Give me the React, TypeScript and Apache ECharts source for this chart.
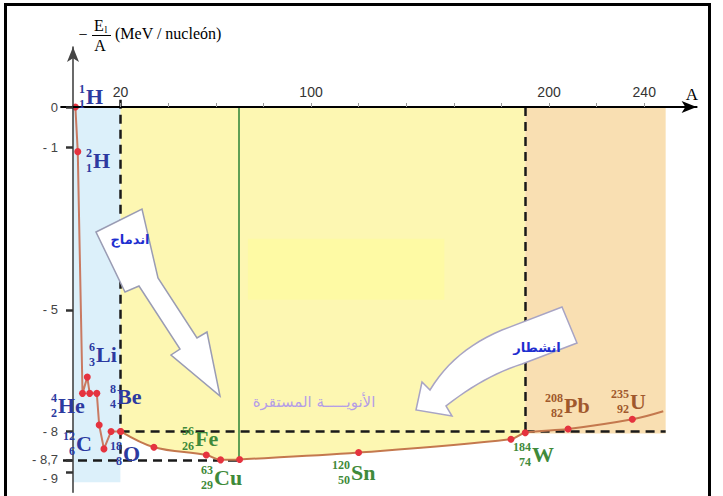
import React, { useEffect, useRef } from 'react';
import * as echarts from 'echarts';

// ---------- data ----------
// binding energy per nucleon curve: light nuclei (straight segments)
const lightMass = [1, 2, 4, 6, 7, 10, 11, 13, 16, 20];
const lightEnergy = [0, -1.1, -7.06, -6.66, -7.06, -7.06, -7.84, -8.43, -8.0, -8.0];
// heavier nuclei (smooth curve); last point is the end of the line (no dot)
const heavyMass = [20, 34, 56, 62, 70, 120, 184, 190, 208, 235, 248];
const heavyEnergy = [-8.0, -8.39, -8.58, -8.7, -8.69, -8.52, -8.19, -8.03, -7.94, -7.7, -7.5];
const heavyDot = [true, true, true, true, true, true, true, true, true, true, false];

// axis ticks
const xTickValues = [20, 40, 60, 80, 100, 120, 140, 160, 180, 200, 220, 240];
const xLabelValues = [20, 100, 200, 240];
const yTickValues = [-8.7, -8, -5, -1, 0];
const yTickLabels = ['- 8,7', '- 8', '- 5', '- 1', '0'];
const yLowTickValues = [-9];
const yLowTickLabels = ['- 9'];

// region limits
const fusionLimit = 20;
const fissionLimit = 190;
const stableLine = 69.5;
const plateauEnergy = -8;
const minEnergy = -8.7;
const regionEnd = 249;

// nuclide labels
const nuclideSymbols = ['H', 'H', 'He', 'Li', 'Be', 'C', 'O', 'Fe', 'Cu', 'Sn', 'W', 'Pb', 'U'];
const nuclideMass = [1, 2, 4, 6, 8, 12, 18, 56, 63, 120, 184, 208, 235];
const nuclideCharge = [1, 1, 2, 3, 4, 6, 8, 26, 29, 50, 74, 82, 92];

// texts
const yTitleUnit = '(MeV / nucleón)';
const xTitle = 'A';
const fusionText = 'اندماج';
const fissionText = 'انشطار';
const stableText = 'الأنويـــــة المستقرة';

// ---------- layout / style (not data) ----------
const BLUE = '#2c3aa0';
const GREEN = '#3f8a3a';
const BROWN = '#a0582c';
const labelLayout: [number, number, string][] = [
  [86, 96, BLUE],
  [93, 160, BLUE],
  [58, 405, BLUE],
  [96, 354, BLUE],
  [117, 396, BLUE],
  [76, 443, BLUE],
  [123, 453, BLUE],
  [195, 438, GREEN],
  [214, 477, GREEN],
  [351, 472, GREEN],
  [532, 454, GREEN],
  [564, 405, BROWN],
  [630, 401, BROWN],
];

const serif = "'Liberation Serif', 'Times New Roman', serif";
const narrow = "'Liberation Sans Narrow', 'Liberation Sans', Arial, sans-serif";

function quad(p0: number[], c: number[], p1: number[], n: number): number[][] {
  const pts: number[][] = [];
  for (let i = 0; i <= n; i++) {
    const t = i / n;
    const a = (1 - t) * (1 - t);
    const b = 2 * (1 - t) * t;
    const d = t * t;
    pts.push([a * p0[0] + b * c[0] + d * p1[0], a * p0[1] + b * c[1] + d * p1[1]]);
  }
  return pts;
}

function labelFormatter(values: number[], labels: string[]) {
  return (v: number) => {
    const idx = values.findIndex((t) => Math.abs(t - v) < 1e-6);
    return idx >= 0 ? labels[idx] : '';
  };
}

export default function App() {
  const ref = useRef<HTMLDivElement>(null);
  useEffect(() => {
    if (!ref.current) return;
    const chart = echarts.init(ref.current, null, { renderer: 'svg' });

    const lightData = lightMass.map((a, i) => [a, lightEnergy[i]]);
    const heavyData = heavyMass.map((a, i) =>
      heavyDot[i] ? [a, heavyEnergy[i]] : { value: [a, heavyEnergy[i]], symbol: 'none' }
    );
    const yellowData = heavyMass
      .map((a, i) => [a, heavyEnergy[i]])
      .filter((p) => p[0] >= fusionLimit && p[0] <= fissionLimit);

    const dash = { color: '#1a1a1a', width: 2.5, type: [9, 6] as any };

    // fission arrow polygon
    const innerCurve = quad([522, 364], [484, 376], [446, 406], 12);
    const outerCurve = quad([430, 390], [454, 350], [502, 330], 12);
    const fissionPoly = [
      [502, 330], [562, 307], [577, 343],
      ...innerCurve,
      [452, 416], [416, 410], [422, 382],
      ...outerCurve,
    ];
    const fusionPoly = [
      [96, 232], [142, 209], [158, 278], [197, 338], [207, 332], [220, 396],
      [171, 355], [180, 349], [139, 286], [125, 292],
    ];

    const labelEls: any[] = [];
    nuclideSymbols.forEach((sym, i) => {
      const [left, cy, color] = labelLayout[i];
      labelEls.push({
        type: 'text', x: left - 1, y: cy, z: 100,
        style: {
          text: `${nuclideMass[i]}\n${nuclideCharge[i]}`, align: 'right', verticalAlign: 'middle',
          font: `bold 12px ${serif}`, lineHeight: 15, fill: color,
        },
      });
      labelEls.push({
        type: 'text', x: left, y: cy, z: 100,
        style: { text: sym, align: 'left', verticalAlign: 'middle', font: `bold 22px ${serif}`, fill: color },
      });
    });

    const yLabelStyle = { margin: 15, color: '#444', fontFamily: narrow, fontSize: 13 };

    const option: any = {
      animation: false,
      backgroundColor: '#ffffff',
      grid: [
        // main plotting grid: x from 0, y up to the arrow tip
        { left: 73, right: 26.4, top: 47, bottom: 3.7, containLabel: false },
        // grid that carries the horizontal axis at E = 0
        { left: 61.1, right: 26.4, top: 107, bottom: 3.7, containLabel: false },
      ],
      xAxis: [
        { gridIndex: 0, type: 'value', min: 0, max: 262, show: false },
        {
          gridIndex: 1, type: 'value', min: -5, max: 262, position: 'top', z: 10,
          axisLine: { symbol: ['none', 'arrow'], symbolSize: [9, 15], lineStyle: { color: '#000', width: 2 } },
          axisTick: { show: true, customValues: xTickValues, length: 4, inside: false, lineStyle: { color: '#9a9a9a', width: 1 } },
          axisLabel: { customValues: xLabelValues, margin: 8, color: '#333', fontFamily: narrow, fontSize: 14 },
          splitLine: { show: false },
        },
      ],
      yAxis: [
        {
          gridIndex: 0, type: 'value', min: -9.5, max: 1.48, z: 10, position: 'left',
          axisLine: { onZero: false, symbol: ['none', 'arrow'], symbolSize: [9, 15], lineStyle: { color: '#444', width: 1.6 } },
          axisTick: { show: true, customValues: yTickValues, length: 7, lineStyle: { color: '#333', width: 2.5 } },
          axisLabel: {
            ...yLabelStyle,
            customValues: yTickValues, formatter: labelFormatter(yTickValues, yTickLabels),
          },
          splitLine: { show: false },
        },
        { gridIndex: 1, type: 'value', min: -9.5, max: 0, show: false },
        {
          gridIndex: 0, type: 'value', min: -9.5, max: 1.48, z: 10, position: 'left', offset: 0,
          axisLine: { show: false, onZero: false },
          axisTick: { show: true, customValues: yLowTickValues, length: 7, lineStyle: { color: '#333', width: 2.5 } },
          axisLabel: {
            ...yLabelStyle, verticalAlign: 'top',
            customValues: yLowTickValues, formatter: labelFormatter(yLowTickValues, yLowTickLabels),
          },
          splitLine: { show: false },
        },
      ],
      series: [
        {
          name: 'regions', type: 'line', z: 1, silent: true, data: yellowData,
          symbol: 'none', lineStyle: { width: 0, opacity: 0 },
          markArea: {
            silent: true, label: { show: false },
            data: [
              [{ coord: [0, 0], itemStyle: { color: '#dcf0fa', opacity: 1 } }, { coord: [fusionLimit, -9.25] }],
              [{ coord: [fusionLimit, 0], itemStyle: { color: '#fdf7b2', opacity: 1 } }, { coord: [fissionLimit, minEnergy] }],
              [{ coord: [fissionLimit, 0], itemStyle: { color: '#f9dfb2', opacity: 1 } }, { coord: [regionEnd, plateauEnergy - 0.05] }],
              [{ coord: [73.5, -3.25], itemStyle: { color: '#fefaa4', opacity: 1 } }, { coord: [156, -4.75] }],
            ],
          },
        },
        {
          name: 'below', type: 'line', z: 2, silent: true, data: yellowData, smooth: 0.35,
          symbol: 'none', lineStyle: { width: 0, opacity: 0 },
          areaStyle: { color: '#ffffff', opacity: 1, origin: 'start' },
        },
        {
          name: 'guides', type: 'line', z: 3, silent: true, data: [[0, 0]], symbol: 'none', clip: false,
          lineStyle: { width: 0, opacity: 0 },
          markLine: {
            silent: true, symbol: ['none', 'none'], label: { show: false },
            data: [
              [{ coord: [fusionLimit, 0.18], lineStyle: dash }, { coord: [fusionLimit, minEnergy] }],
              [{ coord: [fissionLimit, 0], lineStyle: dash }, { coord: [fissionLimit, plateauEnergy - 0.03] }],
              [{ coord: [fusionLimit, plateauEnergy], lineStyle: dash }, { coord: [regionEnd, plateauEnergy] }],
              [{ coord: [stableLine, 0], lineStyle: { color: '#5f9f55', width: 2, type: 'solid' } }, { coord: [stableLine, minEnergy] }],
            ],
          },
        },
        {
          name: 'guidesLow', type: 'line', xAxisIndex: 1, yAxisIndex: 1, z: 3, silent: true,
          data: [[0, 0]], symbol: 'none', clip: false,
          lineStyle: { width: 0, opacity: 0 },
          markLine: {
            silent: true, symbol: ['none', 'none'], label: { show: false },
            data: [
              [{ coord: [-4.2, minEnergy], lineStyle: dash }, { coord: [stableLine, minEnergy] }],
            ],
          },
        },
        {
          name: 'light', type: 'line', z: 5, data: lightData, smooth: false,
          symbol: 'circle', symbolSize: 7,
          lineStyle: { color: '#c97a62', width: 2 },
          itemStyle: { color: '#e5333f' },
        },
        {
          name: 'heavy', type: 'line', z: 5, data: heavyData, smooth: 0.35,
          symbol: 'circle', symbolSize: 7,
          lineStyle: { color: '#c4784e', width: 2 },
          itemStyle: { color: '#e5333f' },
        },
      ],
      graphic: {
        elements: [
          { type: 'rect', z: 100, shape: { x: 5.5, y: 4.5, width: 704, height: 500 }, style: { fill: 'none', stroke: '#000', lineWidth: 3 } },
          // y title
          { type: 'text', z: 100, x: 83, y: 34, style: { text: '−', align: 'center', verticalAlign: 'middle', font: `16px ${serif}`, fill: '#000' } },
          { type: 'text', z: 100, x: 99, y: 25, style: { text: 'E', align: 'center', verticalAlign: 'middle', font: `16px ${serif}`, fill: '#000' } },
          { type: 'text', z: 100, x: 106, y: 29, style: { text: 'l', align: 'center', verticalAlign: 'middle', font: `10px ${serif}`, fill: '#000' } },
          { type: 'line', z: 100, shape: { x1: 92, y1: 35.5, x2: 111, y2: 35.5 }, style: { stroke: '#000', lineWidth: 1 } },
          { type: 'text', z: 100, x: 100, y: 45, style: { text: 'A', align: 'center', verticalAlign: 'middle', font: `16px ${serif}`, fill: '#000' } },
          { type: 'text', z: 100, x: 115, y: 33, style: { text: yTitleUnit, align: 'left', verticalAlign: 'middle', font: `16px ${serif}`, fill: '#000' } },
          // x title
          { type: 'text', z: 100, x: 692, y: 94, style: { text: xTitle, align: 'center', verticalAlign: 'middle', font: `17px ${serif}`, fill: '#000' } },
          // arrows
          { type: 'polygon', z: 90, shape: { points: fusionPoly }, style: { fill: '#ffffff', stroke: '#9a9cb4', lineWidth: 1.5 } },
          { type: 'polygon', z: 90, shape: { points: fissionPoly }, style: { fill: '#ffffff', stroke: '#a8a4c4', lineWidth: 1.5 } },
          { type: 'text', z: 100, x: 130, y: 239, style: { text: fusionText, align: 'center', verticalAlign: 'middle', font: `bold 13px 'DejaVu Sans', sans-serif`, fill: '#1f2fd0' } },
          { type: 'text', z: 100, x: 537, y: 347, style: { text: fissionText, align: 'center', verticalAlign: 'middle', font: `bold 13px 'DejaVu Sans', sans-serif`, fill: '#1f2fd0' } },
          { type: 'text', z: 100, x: 314, y: 402, style: { text: stableText, align: 'center', verticalAlign: 'middle', font: `15px 'DejaVu Sans', sans-serif`, fill: '#b59ee6' } },
          ...labelEls,
        ],
      },
    };
    chart.setOption(option);
    return () => chart.dispose();
  }, []);
  return (
    <div
      ref={ref}
      style={{ position: 'absolute', left: 0, top: 0, width: 723, height: 496, background: '#fff' }}
    />
  );
}
